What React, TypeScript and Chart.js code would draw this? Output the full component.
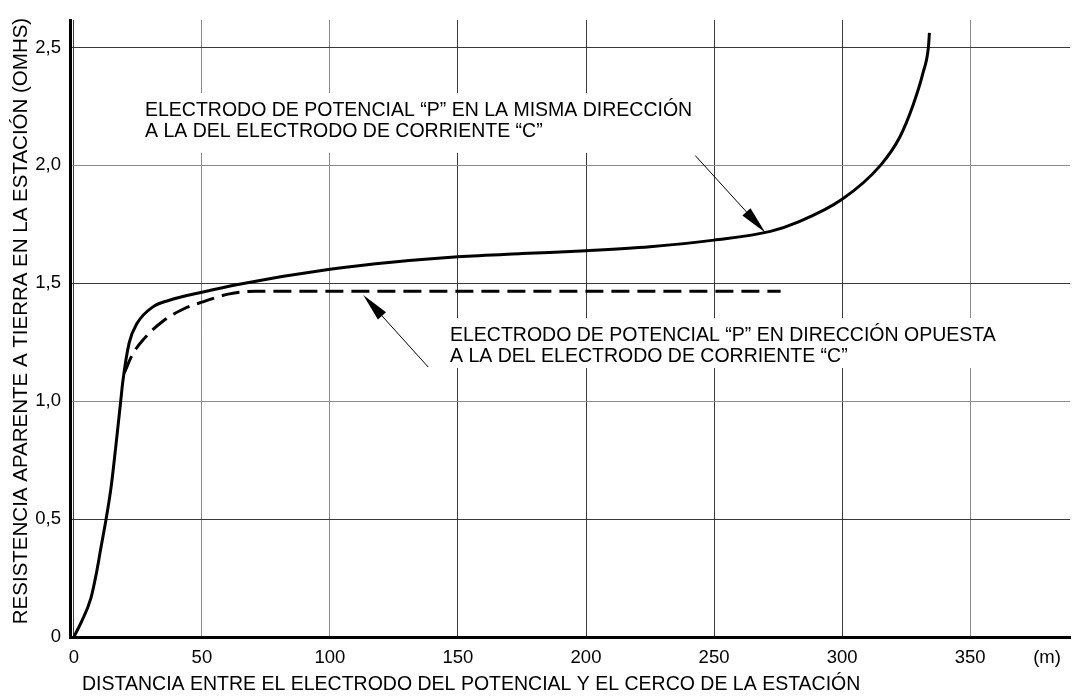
import React, { useEffect, useRef } from 'react';
import { Chart, registerables } from 'chart.js';

Chart.register(...registerables);

// ---- data ----
const xTicks = [0, 50, 100, 150, 200, 250, 300, 350];
const yTicks = [0, 0.5, 1, 1.5, 2, 2.5];

const sameDirX = [0, 3, 6.7, 8.8, 10.5, 12.6, 14.6, 16.3, 18.3, 19.1, 21.6, 24.7, 30.9, 37, 50, 64.6, 100, 125, 150, 175, 200, 225, 250, 272, 283, 300, 315, 322.5, 327.8, 331.7, 333.7, 334.1];
const sameDirY = [0, 0.065, 0.166, 0.27, 0.374, 0.5, 0.64, 0.8, 1.0, 1.081, 1.247, 1.33, 1.4, 1.427, 1.462, 1.496, 1.559, 1.59, 1.612, 1.626, 1.638, 1.655, 1.683, 1.72, 1.76, 1.856, 2.0, 2.119, 2.258, 2.396, 2.5, 2.562];

const oppDirX = [19.7, 23, 27.1, 34.5, 43.2, 50, 60.8, 71, 276];
const oppDirY = [1.12, 1.2, 1.261, 1.337, 1.393, 1.42, 1.455, 1.466, 1.466];

const xTitle = 'DISTANCIA ENTRE EL ELECTRODO DEL POTENCIAL Y EL CERCO DE LA ESTACIÓN';
const yTitle = 'RESISTENCIA APARENTE A TIERRA EN LA ESTACIÓN (OMHS)';
const unitLabel = '(m)';
const note1 = ['ELECTRODO DE POTENCIAL “P” EN LA MISMA DIRECCIÓN', 'A LA DEL ELECTRODO DE CORRIENTE “C”'];
const note2 = ['ELECTRODO DE POTENCIAL “P” EN DIRECCIÓN OPUESTA', 'A LA DEL ELECTRODO DE CORRIENTE “C”'];
// arrow tips (data coordinates)
const tip1 = { x: 270, y: 1.715 };
const tip2 = { x: 113, y: 1.45 };

const FONT = '"Liberation Sans", Arial, Helvetica, sans-serif';
const TICK_FS = 18.5;
const TEXT_FS = 19.5;
const YTITLE_FS = 20.5;
const GRAY = '#8c8c8c';
const DARK = '#3a3a3a';

function arrow(ctx: CanvasRenderingContext2D, x0: number, y0: number, x1: number, y1: number) {
  const ang = Math.atan2(y1 - y0, x1 - x0);
  const L = 28, W = 5.5;
  ctx.save();
  ctx.strokeStyle = '#000';
  ctx.lineWidth = 1;
  ctx.beginPath();
  ctx.moveTo(x0, y0);
  ctx.lineTo(x1 - Math.cos(ang) * L * 0.8, y1 - Math.sin(ang) * L * 0.8);
  ctx.stroke();
  const bx = x1 - Math.cos(ang) * L, by = y1 - Math.sin(ang) * L;
  ctx.fillStyle = '#000';
  ctx.beginPath();
  ctx.moveTo(x1, y1);
  ctx.lineTo(bx + Math.sin(ang) * W, by - Math.cos(ang) * W);
  ctx.lineTo(bx - Math.sin(ang) * W, by + Math.cos(ang) * W);
  ctx.closePath();
  ctx.fill();
  ctx.restore();
}

const overlay = {
  id: 'overlay',
  beforeDatasetsDraw(chart: any) {
    const ctx: CanvasRenderingContext2D = chart.ctx;
    ctx.save();
    ctx.font = `${TEXT_FS}px ${FONT}`;
    ctx.textBaseline = 'middle';
    ctx.textAlign = 'left';
    // note 1
    const w1 = Math.max(...note1.map((t) => ctx.measureText(t).width));
    ctx.fillStyle = '#fff';
    ctx.fillRect(140, 93, w1 + 10, 60);
    ctx.fillStyle = '#000';
    ctx.fillText(note1[0], 145, 111);
    ctx.fillText(note1[1], 145, 132);
    // note 2
    const w2 = Math.max(...note2.map((t) => ctx.measureText(t).width));
    ctx.fillStyle = '#fff';
    ctx.fillRect(445, 318, w2 + 10, 50);
    ctx.fillStyle = '#000';
    ctx.fillText(note2[0], 450, 336);
    ctx.fillText(note2[1], 450, 357);
    ctx.restore();
  },
  afterDraw(chart: any) {
    const ctx: CanvasRenderingContext2D = chart.ctx;
    const xs = chart.scales.x, ys = chart.scales.y;
    const t1x = xs.getPixelForValue(tip1.x), t1y = ys.getPixelForValue(tip1.y);
    const t2x = xs.getPixelForValue(tip2.x), t2y = ys.getPixelForValue(tip2.y);
    arrow(ctx, t1x - 70, t1y - 77, t1x, t1y);
    arrow(ctx, t2x + 65, t2y + 72, t2x, t2y);
    ctx.save();
    ctx.fillStyle = '#000';
    ctx.textBaseline = 'middle';
    ctx.textAlign = 'left';
    ctx.font = `${TEXT_FS}px ${FONT}`;
    ctx.fillText(xTitle, 82, 685);
    ctx.textAlign = 'center';
    ctx.font = `${TICK_FS}px ${FONT}`;
    ctx.fillText(unitLabel, 1047, 658);
    ctx.font = `${YTITLE_FS}px ${FONT}`;
    ctx.translate(21, 321);
    ctx.rotate(-Math.PI / 2);
    ctx.fillText(yTitle, 0, 0);
    ctx.restore();
  },
};

const xGridColor = (c: any) => {
  const v = c.tick ? c.tick.value : 0;
  return v === 50 || v === 100 || v === 350 ? GRAY : DARK;
};
const yGridColor = (c: any) => {
  const v = c.tick ? c.tick.value : 0;
  return v === 1 || v === 2 ? GRAY : DARK;
};

export default function App() {
  const ref = useRef<HTMLCanvasElement>(null);
  useEffect(() => {
    document.body.style.margin = '0';
    const chart = new Chart(ref.current as HTMLCanvasElement, {
      type: 'line',
      data: {
        datasets: [
          {
            label: 'misma dirección',
            data: sameDirX.map((x, i) => ({ x, y: sameDirY[i] })),
            borderColor: '#000',
            borderWidth: 3,
            pointRadius: 0,
            cubicInterpolationMode: 'monotone',
            fill: false,
          },
          {
            label: 'dirección opuesta',
            data: oppDirX.map((x, i) => ({ x, y: oppDirY[i] })),
            borderColor: '#000',
            borderWidth: 3,
            borderDash: [18, 8],
            pointRadius: 0,
            cubicInterpolationMode: 'monotone',
            fill: false,
          },
        ],
      },
      options: {
        responsive: false,
        animation: false,
        events: [],
        layout: { padding: { left: 0, top: 7, right: 5, bottom: 0 } },
        plugins: { legend: { display: false }, tooltip: { enabled: false }, title: { display: false } },
        scales: {
          x: {
            type: 'linear',
            min: -1.5,
            max: 389,
            afterBuildTicks: (s: any) => { s.ticks = xTicks.map((v) => ({ value: v })); },
            afterFit: (s: any) => { s.height = 63; },
            grid: { color: xGridColor, lineWidth: 1, drawTicks: false },
            border: { display: true, color: '#000', width: 3 },
            ticks: { color: '#000', font: { family: FONT, size: TICK_FS }, padding: 10, maxRotation: 0, autoSkip: false },
          },
          y: {
            type: 'linear',
            min: 0,
            max: 2.616,
            afterBuildTicks: (s: any) => { s.ticks = yTicks.map((v) => ({ value: v })); },
            afterFit: (s: any) => { s.width = 70; },
            grid: { color: yGridColor, lineWidth: 1, drawTicks: false },
            border: { display: true, color: '#000', width: 3 },
            ticks: {
              color: '#000',
              font: { family: FONT, size: TICK_FS },
              padding: 9,
              callback: (v: any) => (v === 0 ? '0' : Number(v).toFixed(1).replace('.', ',')),
            },
          },
        },
      },
      plugins: [overlay],
    } as any);
    return () => chart.destroy();
  }, []);
  return (
    <div style={{ width: 1075, height: 700 }}>
      <canvas ref={ref} width={1075} height={700} style={{ display: 'block', width: 1075, height: 700 }} />
    </div>
  );
}
